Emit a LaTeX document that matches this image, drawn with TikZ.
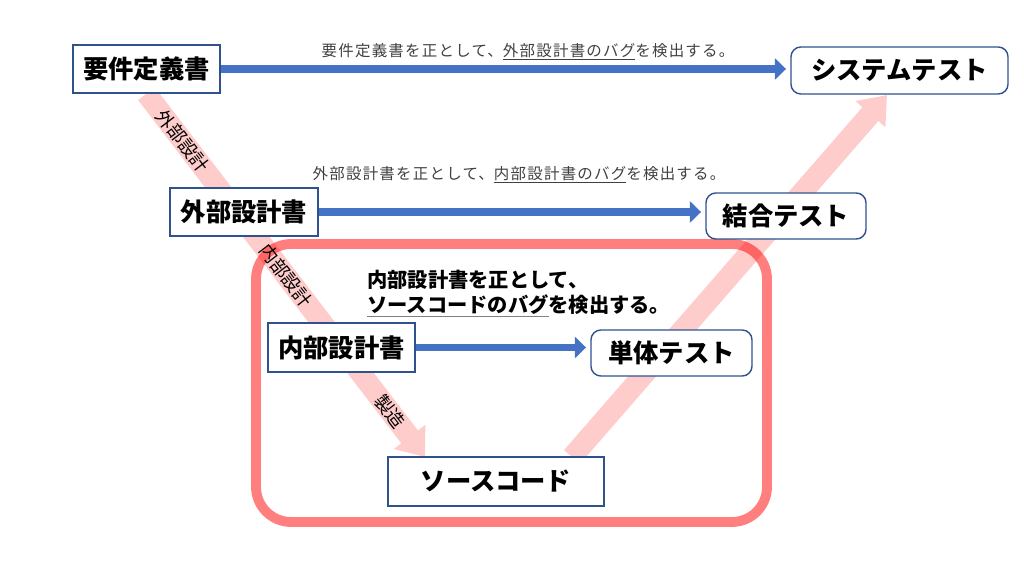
\documentclass[tikz,border=0pt]{standalone}
\usepackage{fontspec}
\setmainfont{Noto Sans CJK JP}
\newfontfamily\jpnote[LetterSpace=8]{Noto Sans CJK JP}
\usetikzlibrary{arrows.meta}
\definecolor{boxblue}{HTML}{2F528F}
\definecolor{linkblue}{HTML}{4472C4}
\definecolor{framered}{HTML}{FF7F7F}
\definecolor{notegray}{HTML}{404040}
\newcommand\grayline[1]{\textcolor{gray}{\underline{\textcolor{black}{#1}}}}
\pgfdeclarelayer{back}
\pgfsetlayers{back,main}
\tikzset{
  doc/.style={draw=boxblue, line width=1pt, fill=white, inner sep=0pt,
    font=\fontsize{18}{21}\selectfont\bfseries},
  test/.style={doc, rounded corners=7pt},
  check/.style={draw=linkblue, line width=5pt, shorten >=3pt,
    -{Triangle[length=8pt,width=15pt]}},
  flow/.style={draw=red, line width=15pt, -{Triangle[length=18pt,width=27pt]}},
  phase/.style={font=\fontsize{13}{15}\selectfont, text=black, inner sep=0pt},
  note/.style={font=\jpnote\fontsize{11}{13}\selectfont, text=notegray}
}

\begin{document}
\begin{tikzpicture}[x=0.025cm, y=-0.025cm]
\useasboundingbox (0,0) rectangle (1024,576);

% documents
\node[doc, minimum width=3.675cm, minimum height=1.2cm] (req) at (146.5,69) {要件定義書};
\node[doc, minimum width=3.7cm, minimum height=1.2cm] (ext) at (244,212) {外部設計書};
\node[doc, minimum width=3.675cm, minimum height=1.225cm] (intd) at (341.5,347.5) {内部設計書};
\node[doc, minimum width=5.4cm, minimum height=1.225cm] (src) at (496,481.5) {ソースコード};

% tests
\node[test, minimum width=5.425cm, minimum height=1.175cm] (sys) at (899.5,70.5) {システムテスト};
\node[test, minimum width=4cm, minimum height=1.15cm] (integ) at (786,216) {結合テスト};
\node[test, minimum width=4.025cm, minimum height=1.15cm] (unit) at (671.5,353) {単体テスト};

\coordinate (mfg) at (425,457);
\coordinate (up) at (572,457);
\coordinate (top) at (887,95);

\begin{pgfonlayer}{back}
  \draw[framered, line width=7pt, rounded corners=25pt] (256,244) rectangle (767,522);
  \begin{scope}[transparency group, opacity=0.2]
    \draw[flow] (req.south) -- (mfg);
    \draw[flow] (up) -- (top);
  \end{scope}
\end{pgfonlayer}

\path (req.south) -- node[phase, sloped, pos=0.13] {外部設計}
  node[phase, sloped, pos=0.5] {内部設計}
  node[phase, sloped, pos=0.875] {製造} (mfg);

% checks
\draw[check] (req.east) -- (req.east -| sys.west);
\draw[check] (ext.east) -- (ext.east -| integ.west);
\draw[check] (intd.east) -- (intd.east -| unit.west);

\node[note] (rnote) at (528,52) {要件定義書を正として、\underline{外部設計書のバグ}を検出する。};
\node[note] (enote) at (519,175) {外部設計書を正として、\underline{内部設計書のバグ}を検出する。};
\node[font=\fontsize{14.4}{17.7}\selectfont\bfseries, align=left, anchor=west, inner sep=0pt]
  (inote) at (367,294) {内部設計書を正として、\\\grayline{ソースコードのバグ}を検出する。};
\end{tikzpicture}
\end{document}
